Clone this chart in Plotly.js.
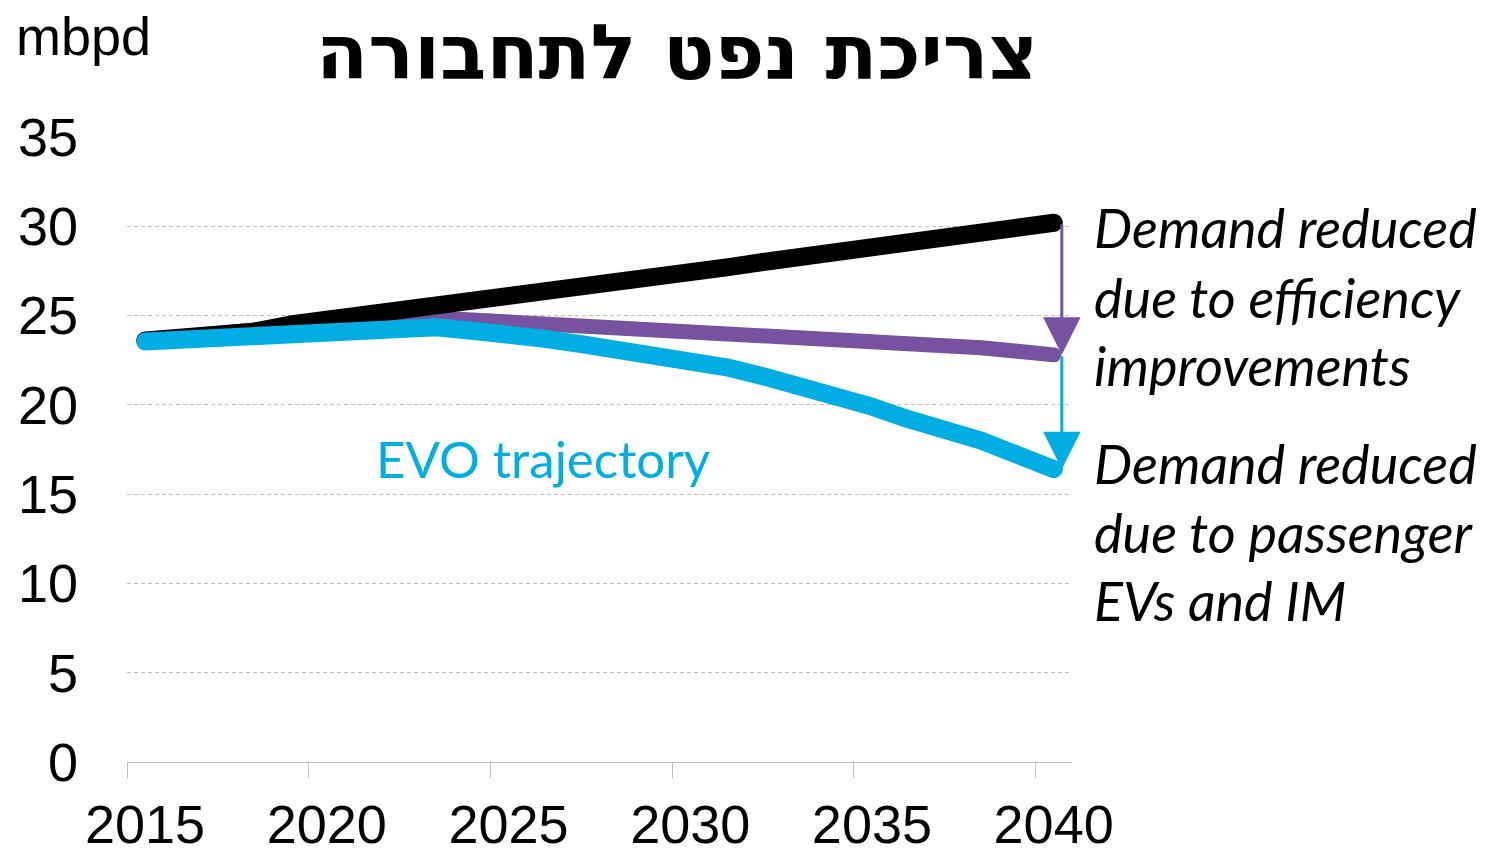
<!DOCTYPE html>
<html>
<head>
<meta charset="utf-8">
<script src="https://cdn.plot.ly/plotly-3.0.1.min.js"></script>
<style>
  html, body { margin: 0; padding: 0; background: #fff; }
  #chart { width: 1491px; height: 849px; }
  path.js-line { stroke-linecap: round !important; stroke-linejoin: round !important; }
</style>
</head>
<body>
<div id="chart"></div>
<script>
// ---- data ----
const years = [2015,2016,2017,2018,2019,2020,2021,2022,2023,2024,2025,2026,2027,2028,2029,2030,2031,2032,2033,2034,2035,2036,2037,2038,2039,2040];
const baseline = [23.6,23.7,23.9,24.1,24.5,24.75,25.1,25.4,25.65,25.8,26.1,26.3,26.45,26.7,27.1,27.4,27.7,28.0,28.3,28.6,28.9,29.1,29.4,29.7,29.95,30.2];
const efficiency = [23.6,23.75,23.9,24.1,24.4,24.6,24.75,24.85,24.85,24.75,24.65,24.5,24.3,24.2,24.2,24.1,24.0,23.9,23.85,23.75,23.6,23.4,23.3,23.2,23.0,22.8];
const evo = [23.55,23.65,23.8,23.95,24.15,24.2,24.3,24.4,24.35,24.15,24.0,23.7,23.4,23.1,22.9,22.5,22.1,21.6,21.1,20.6,19.9,19.2,18.7,18.0,17.2,16.4];
const tickYears = [2015,2020,2025,2030,2035,2040];
const yTicks = [0,5,10,15,20,25,30,35];

const title = 'צריכת נפט לתחבורה';
const unitLabel = 'mbpd';
const evoLabel = 'EVO trajectory';
const note1 = ['Demand reduced', 'due to efficiency', 'improvements'];
const note2 = ['Demand reduced', 'due to passenger', 'EVs and IM'];

const BLACK = '#000000', PURPLE = '#7752A1', CYAN = '#00AEE4';
const last = years.length - 1;
const ARROW_X = years[last] + 0.22;

const traces = [
  {x: years, y: efficiency, mode: 'lines', line: {color: PURPLE, width: 15}, hoverinfo: 'skip'},
  {x: years, y: baseline, mode: 'lines', line: {color: BLACK, width: 18}, hoverinfo: 'skip'},
  {x: years, y: evo, mode: 'lines', line: {color: CYAN, width: 18}, hoverinfo: 'skip'}
];

const W = 1491, H = 849, ML = 127, MR = 419, MT = 137, MB = 87;
const PW = W - ML - MR, PH = H - MT - MB;
function px(xp) { return (xp - ML) / PW; }
function py(yp) { return (H - MB - yp) / PH; }

const annotations = [
  {xref: 'paper', yref: 'paper', x: px(677), y: py(52), xanchor: 'center', yanchor: 'middle',
   text: '<b>' + title + '</b>', showarrow: false,
   font: {family: 'DejaVu Sans, sans-serif', size: 76, color: '#000'}},
  {xref: 'paper', yref: 'paper', x: px(14), y: py(36), xanchor: 'left', yanchor: 'middle',
   text: unitLabel, showarrow: false,
   font: {family: 'Liberation Sans, Arial, sans-serif', size: 54, color: '#000'}},
  {xref: 'paper', yref: 'paper', x: px(374), y: py(458), xanchor: 'left', yanchor: 'middle',
   text: evoLabel, showarrow: false,
   font: {family: 'Lato, sans-serif', size: 51, color: CYAN}},
  // arrows
  {x: ARROW_X, y: efficiency[last], ax: ARROW_X, ay: baseline[last], xref: 'x', yref: 'y', axref: 'x', ayref: 'y',
   text: '', showarrow: true, arrowhead: 2, arrowsize: 2.5, arrowwidth: 3, arrowcolor: PURPLE, standoff: 0},
  {x: ARROW_X, y: evo[last], ax: ARROW_X, ay: efficiency[last], xref: 'x', yref: 'y', axref: 'x', ayref: 'y',
   text: '', showarrow: true, arrowhead: 2, arrowsize: 2.5, arrowwidth: 3, arrowcolor: CYAN, standoff: -4}
];
const lineYs1 = [228, 297, 365], lineYs2 = [463, 532, 600];
note1.forEach((t, i) => annotations.push({xref: 'paper', yref: 'paper', x: px(1092), y: py(lineYs1[i]), xanchor: 'left', yanchor: 'middle',
  text: '<i>' + t + '</i>', showarrow: false, font: {family: 'Lato, sans-serif', size: 54, color: '#000'}}));
note2.forEach((t, i) => annotations.push({xref: 'paper', yref: 'paper', x: px(1092), y: py(lineYs2[i]), xanchor: 'left', yanchor: 'middle',
  text: '<i>' + t + '</i>', showarrow: false, font: {family: 'Lato, sans-serif', size: 54, color: '#000'}}));

const layout = {
  width: W, height: H,
  margin: {l: ML, r: MR, t: MT, b: MB, pad: 0},
  paper_bgcolor: '#fff', plot_bgcolor: '#fff',
  showlegend: false,
  font: {family: 'Liberation Sans, Arial, sans-serif', color: '#000'},
  xaxis: {
    range: [years[0] - 0.5, years[last] + 0.5],
    tickvals: tickYears.map(v => v - 0.5),
    ticktext: tickYears.map(String),
    ticklabelshift: 18,
    ticks: 'outside', ticklen: 15, tickwidth: 1, tickcolor: '#BFBFBF',
    showline: true, linecolor: '#BFBFBF', linewidth: 1,
    showgrid: false, zeroline: false,
    tickfont: {family: 'Liberation Sans, Arial, sans-serif', size: 54, color: '#000'},
    ticklabelstandoff: 0,
    fixedrange: true
  },
  yaxis: {
    range: [0, 35],
    tickvals: yTicks,
    ticks: '', showline: false, zeroline: false,
    showgrid: true, gridcolor: '#BFBFBF', gridwidth: 1, griddash: '4px,3px',
    tickfont: {family: 'Liberation Sans, Arial, sans-serif', size: 54, color: '#000'},
    ticklabelstandoff: 48,
    fixedrange: true
  },
  annotations: annotations
};

Plotly.newPlot('chart', traces, layout, {staticPlot: true, displayModeBar: false});
</script>
</body>
</html>
